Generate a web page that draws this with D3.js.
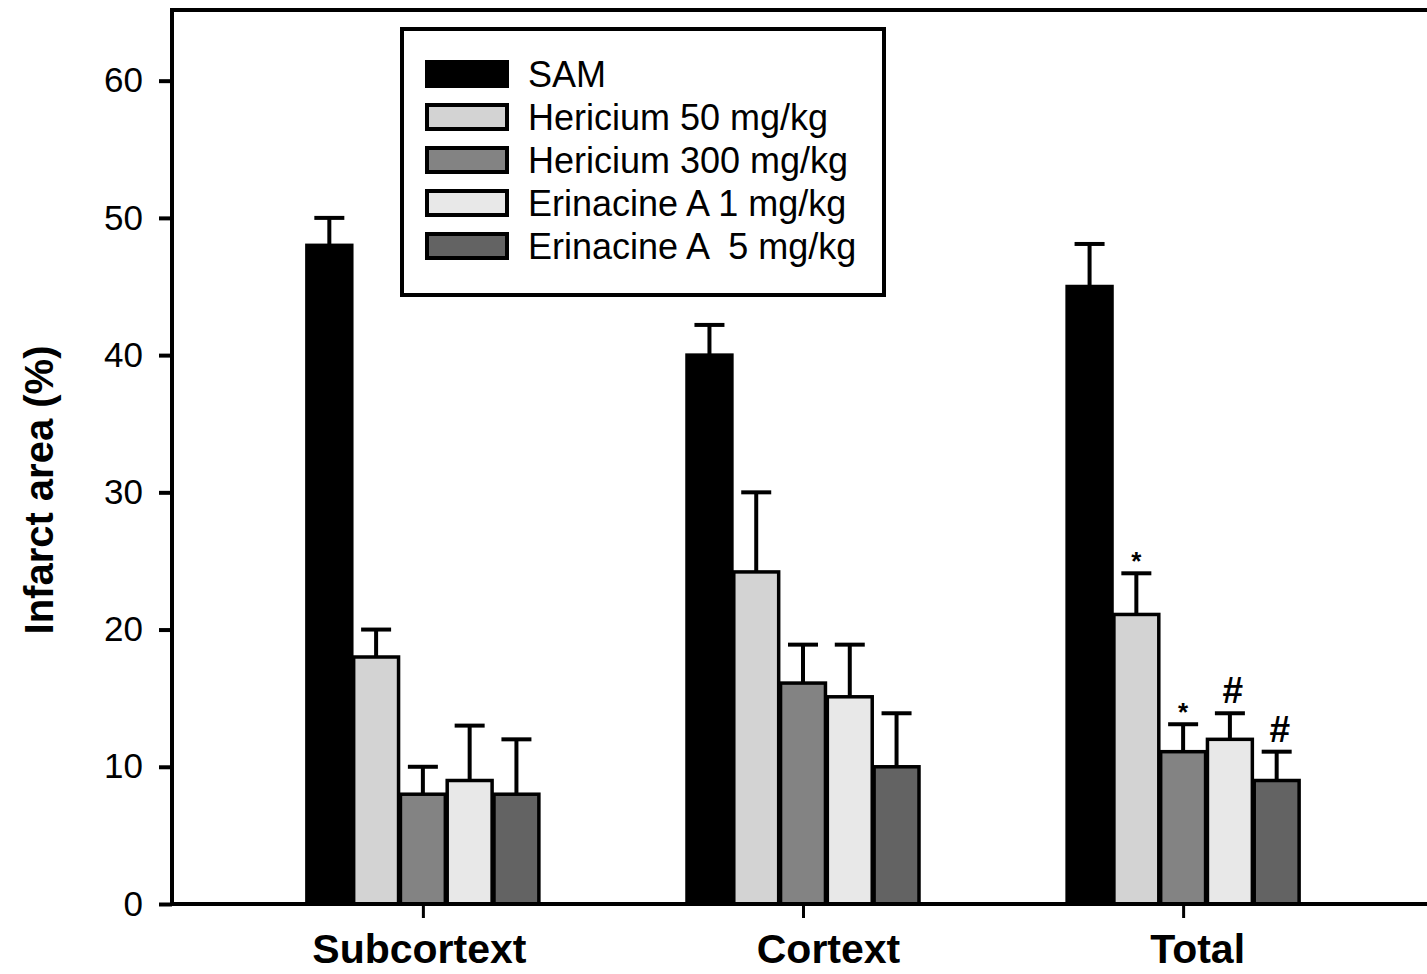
<!DOCTYPE html>
<html>
<head>
<meta charset="utf-8">
<script src="https://cdn.jsdelivr.net/npm/d3@7"></script>
<style>
  body { margin: 0; background: #fff; }
  svg { display: block; }
  text { font-family: 'Liberation Sans', Arial, sans-serif; fill: #000; }
</style>
</head>
<body>
<svg id="chart"></svg>
<script>
const W = 1427
const H = 974
const margin = { top: 10, left: 172, right: -7, bottom: 70 }

// data
const categories = ['Subcortext', 'Cortext', 'Total']
const series = ['SAM', 'Hericium 50 mg/kg', 'Hericium 300 mg/kg', 'Erinacine A 1 mg/kg', 'Erinacine A  5 mg/kg']
const colors = ['#000000', '#d3d3d3', '#838383', '#e8e8e8', '#636363']
const subcortexMean = [48, 18, 8, 9, 8]
const subcortexErr = [2, 2, 2, 4, 4]
const cortexMean = [40, 24.2, 16.1, 15.1, 10]
const cortexErr = [2.2, 5.8, 2.8, 3.8, 3.9]
const totalMean = [45, 21.1, 11.1, 12, 9]
const totalErr = [3.1, 3, 2, 1.9, 2.1]
const totalMarks = ['', '*', '*', '#', '#']
const yTicks = [0, 10, 20, 30, 40, 50, 60]

const means = [subcortexMean, cortexMean, totalMean]
const errs = [subcortexErr, cortexErr, totalErr]
const marks = [[], [], totalMarks]

const rows = []
categories.forEach((c, ci) => {
	series.forEach((s, si) => {
		rows.push({ cat: c, ser: s, si: si, v: means[ci][si], e: errs[ci][si], mark: marks[ci][si] || '' })
	})
})

const innerW = W - margin.left - margin.right
const innerH = H - margin.top - margin.bottom

const svg = d3.select('#chart').attr('width', W).attr('height', H)
const g = svg.append('g').attr('transform', `translate(${margin.left},${margin.top})`)

const x = d3.scalePoint().domain(categories).range([0, innerW]).padding(0.66)
const xs = d3.scaleBand().domain(series).range([-116, 116]).paddingInner(0.04)
const y = d3.scaleLinear().domain([0, 65.15]).range([innerH, 0])
const color = d3.scaleOrdinal().domain(series).range(colors)

const cx = d => x(d.cat) + xs(d.ser) + xs.bandwidth() / 2

// bars
g.selectAll('.bar')
	.data(rows)
	.enter()
	.append('rect')
	.attr('class', 'bar')
	.attr('x', d => x(d.cat) + xs(d.ser))
	.attr('y', d => y(d.v))
	.attr('width', xs.bandwidth())
	.attr('height', d => y(0) - y(d.v))
	.attr('fill', d => color(d.ser))
	.attr('stroke', '#000')
	.attr('stroke-width', 3.5)

// error bars
const eb = g.selectAll('.err').data(rows).enter().append('g').attr('class', 'err')
eb.append('line')
	.attr('x1', cx)
	.attr('x2', cx)
	.attr('y1', d => y(d.v))
	.attr('y2', d => y(d.v + d.e))
	.attr('stroke', '#000')
	.attr('stroke-width', 4)
eb.append('line')
	.attr('x1', d => cx(d) - 15)
	.attr('x2', d => cx(d) + 15)
	.attr('y1', d => y(d.v + d.e))
	.attr('y2', d => y(d.v + d.e))
	.attr('stroke', '#000')
	.attr('stroke-width', 4)

// significance marks
g.selectAll('.mark')
	.data(rows.filter(d => d.mark))
	.enter()
	.append('text')
	.attr('class', 'mark')
	.attr('text-anchor', 'middle')
	.attr('x', d => cx(d) + (d.mark === '#' ? 3 : 0))
	.attr('y', d => y(d.v + d.e) - (d.mark === '#' ? 10 : 3))
	.style('font-size', d => (d.mark === '#' ? '37px' : '26px'))
	.style('font-weight', 'bold')
	.text(d => d.mark)

// axes
const yAxis = g.append('g')
	.call(d3.axisLeft(y).tickValues(yTicks).tickSize(13).tickPadding(16))
yAxis.select('.domain').remove()
yAxis.selectAll('.tick line').attr('stroke', '#000').attr('stroke-width', 4)
yAxis.selectAll('.tick text').style('font-size', '35px').attr('fill', '#000')

// category labels sit a little off their ticks in the original
const labelShift = [-4, 25, 14]
const xAxis = g.append('g')
	.attr('transform', `translate(0,${innerH})`)
	.call(d3.axisBottom(x).tickSize(14).tickPadding(16))
xAxis.select('.domain').remove()
xAxis.selectAll('.tick line').attr('stroke', '#000').attr('stroke-width', 3)
xAxis.selectAll('.tick text')
	.style('font-size', '41px')
	.style('font-weight', 'bold')
	.attr('fill', '#000')
	.attr('dx', (d, i) => labelShift[i])

// frame
g.append('rect')
	.attr('x', 0)
	.attr('y', 0)
	.attr('width', innerW)
	.attr('height', innerH)
	.attr('fill', 'none')
	.attr('stroke', '#000')
	.attr('stroke-width', 4)

// y label
svg.append('text')
	.attr('transform', 'translate(53,490) rotate(-90)')
	.attr('text-anchor', 'middle')
	.style('font-size', '40px')
	.style('font-weight', 'bold')
	.text('Infarct area (%)')

// legend
const legend = svg.append('g').attr('transform', 'translate(400,27)')
legend.append('rect')
	.attr('x', 2)
	.attr('y', 2)
	.attr('width', 482)
	.attr('height', 266)
	.attr('fill', '#fff')
	.attr('stroke', '#000')
	.attr('stroke-width', 4)
const li = legend.selectAll('.li')
	.data(series)
	.enter()
	.append('g')
	.attr('class', 'li')
	.attr('transform', (d, i) => `translate(0,${47 + i * 43})`)
li.append('rect')
	.attr('x', 27)
	.attr('y', -12)
	.attr('width', 80)
	.attr('height', 24)
	.attr('fill', d => color(d))
	.attr('stroke', '#000')
	.attr('stroke-width', 4)
li.append('text')
	.attr('x', 128)
	.attr('y', 13)
	.style('font-size', '36px')
	.style('white-space', 'pre')
	.attr('xml:space', 'preserve')
	.text(d => d)
</script>
</body>
</html>
